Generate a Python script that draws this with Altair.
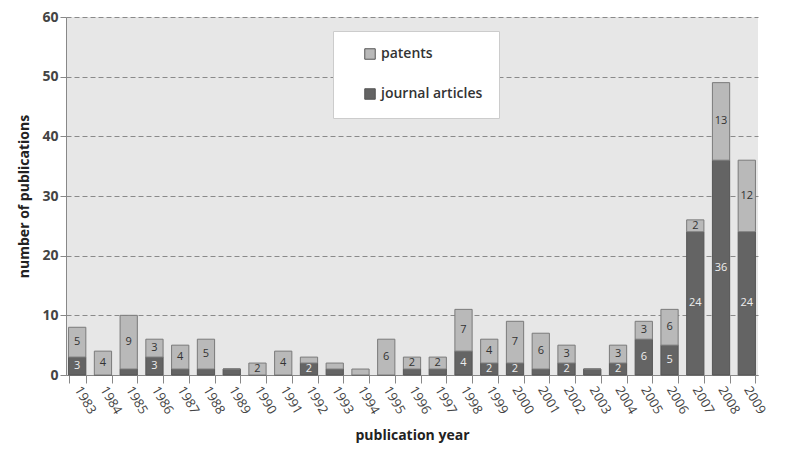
import altair as alt
import pandas as pd

years = [str(y) for y in range(1983, 2010)]
journal = [3, 0, 1, 3, 1, 1, 1, 0, 0, 2, 1, 0, 0, 1, 1, 4, 2, 2, 1, 2, 1, 2, 6, 5, 24, 36, 24]
patents = [5, 4, 9, 3, 4, 5, 0, 2, 4, 1, 1, 1, 6, 2, 2, 7, 4, 7, 6, 3, 0, 3, 3, 6, 2, 13, 12]
series = ["patents", "journal articles"]
colors = ["#b9b9b9", "#646464"]

rows = []
for i, y in enumerate(years):
    rows.append({"year": y, "type": "journal articles", "value": journal[i], "ord": 0})
    rows.append({"year": y, "type": "patents", "value": patents[i], "ord": 1})
df = pd.DataFrame(rows)

FONT = "Open Sans"

base = alt.Chart(df).transform_stack(
    stack="value", groupby=["year"], as_=["v0", "v1"], sort=[alt.SortField("ord", order="ascending")]
).transform_calculate(mid="(datum.v0 + datum.v1) / 2")

xenc = alt.X("year:N", sort=years, title="publication year",
             scale=alt.Scale(paddingInner=0.33, paddingOuter=0.1),
             axis=alt.Axis(labelAngle=60, labelAlign="left", labelBaseline="middle",
                           tickBand="extent", labelPadding=4, titlePadding=12))

bars = base.mark_bar(strokeWidth=1).encode(
    x=xenc,
    y=alt.Y("v0:Q", title="number of publications",
            scale=alt.Scale(domain=[0, 60]),
            axis=alt.Axis(values=[0, 10, 20, 30, 40, 50, 60], titlePadding=10)),
    y2="v1:Q",
    color=alt.Color("type:N", scale=alt.Scale(domain=series, range=colors),
                    legend=alt.Legend(title=None, orient="none", legendX=267, legendY=14,
                                      symbolType="square", symbolSize=110,
                                      symbolStrokeColor="#555", symbolStrokeWidth=1,
                                      symbolOffset=14,
                                      labelFont=FONT, labelFontSize=14, labelColor="#333",
                                      labelFontWeight=600,
                                      rowPadding=24, padding=16,
                                      fillColor="white", strokeColor="#cccccc")),
    stroke=alt.Stroke("type:N", scale=alt.Scale(domain=series, range=["#7a7a7a", "#555555"]),
                      legend=None),
)

labels = base.transform_filter("datum.value >= 2").mark_text(
    font=FONT, fontSize=11, baseline="middle"
).encode(
    x=alt.X("year:N", sort=years),
    y=alt.Y("mid:Q"),
    text="value:Q",
    color=alt.Color("type:N", scale=alt.Scale(domain=series, range=["#333333", "#eeeeee"]),
                    legend=None),
)

chart = alt.layer(bars, labels).resolve_scale(color="independent").properties(
    width=692, height=358, background="white",
    padding={"left": 9, "top": 2, "right": 4, "bottom": 0},
).configure_view(fill="#e7e7e7", stroke=None).configure_axis(
    labelFont=FONT, titleFont=FONT, labelColor="#444", titleColor="#222",
    labelFontSize=13, titleFontSize=14, titleFontWeight="bold",
    domainColor="#888", tickColor="#888",
).configure_axisY(
    gridColor="#8a8a8a", gridDash=[5, 3], gridWidth=1, labelFontWeight="bold",
    labelFontSize=14, tickSize=6,
).configure_axisX(grid=False, tickSize=8, labelFontSize=13)

chart.save("out.html", embed_options={"renderer": "svg", "actions": False})
